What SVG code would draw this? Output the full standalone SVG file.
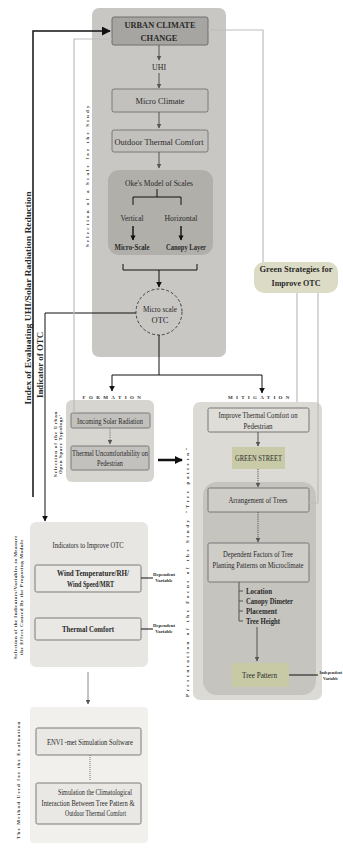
<svg xmlns="http://www.w3.org/2000/svg" width="343" height="850" viewBox="0 0 343 850">
<defs>
<marker id="ag" viewBox="0 0 10 10" refX="9" refY="5" markerWidth="5" markerHeight="5" orient="auto"><path d="M0,0 L10,5 L0,10 z" fill="#555"/></marker>
<marker id="ab" viewBox="0 0 10 10" refX="9" refY="5" markerWidth="6" markerHeight="6" orient="auto"><path d="M0,0 L10,5 L0,10 z" fill="#111"/></marker>
<marker id="abig" viewBox="0 0 10 10" refX="9" refY="5" markerWidth="3.2" markerHeight="3.2" orient="auto"><path d="M0,0 L10,5 L0,10 z" fill="#111"/></marker>
</defs>
<style>
text{font-family:"Liberation Serif","Times New Roman",serif;fill:#2a2a2a;}
.t{font-size:8.5px;text-anchor:middle;}
.b{font-weight:bold;}
.s{font-size:5px;font-weight:bold;text-anchor:middle;letter-spacing:0.6px;fill:#333;}
.box{fill:#c3c1bd;stroke:#7a7a7a;stroke-width:1;}
.lbox{fill:#e9e8e4;stroke:#7a7a7a;stroke-width:1;}
.g{stroke:#555;stroke-width:1;fill:none;}
.k{stroke:#111;stroke-width:1;fill:none;}
.lg{stroke:#bdbdbd;stroke-width:1.2;fill:none;}
</style>
<rect width="343" height="850" fill="#ffffff"/>

<g id="top-panel">
<rect x="92" y="8" width="134" height="349" rx="7" fill="#c9c7c3"/>
<text class="s" transform="translate(89,176) rotate(-90)" textLength="142">Selection of a Scale for the Study</text>
</g>

<g id="ucc">
<rect x="112" y="17" width="96" height="28" rx="2" fill="#a7a5a1" stroke="#6e6e6e"/>
<text class="t b" x="160" y="27.5" font-size="9.5" textLength="71" lengthAdjust="spacingAndGlyphs">URBAN CLIMATE</text>
<text class="t b" x="159" y="41" font-size="9.5" textLength="37" lengthAdjust="spacingAndGlyphs">CHANGE</text>
</g>
<g id="uhi"><text class="t" x="159" y="70" textLength="14" lengthAdjust="spacingAndGlyphs">UHI</text></g>
<g id="micro-climate">
<rect class="box" x="112" y="89" width="96" height="23" rx="2"/>
<text class="t" x="160" y="104" textLength="49" lengthAdjust="spacingAndGlyphs">Micro Climate</text>
</g>
<g id="otc">
<rect class="box" x="112" y="130" width="96" height="22" rx="2"/>
<text class="t" x="159" y="145" textLength="89" lengthAdjust="spacingAndGlyphs">Outdoor Thermal Comfort</text>
</g>
<g id="oke">
<rect x="108" y="170" width="105" height="85" rx="11" fill="#b1afaa"/>
<text class="t" x="159" y="186" textLength="68" lengthAdjust="spacingAndGlyphs">Oke's Model of Scales</text>
<text class="t" x="132" y="221" textLength="23" lengthAdjust="spacingAndGlyphs">Vertical</text>
<text class="t" x="181" y="221" textLength="33" lengthAdjust="spacingAndGlyphs">Horizontal</text>
<text class="t b" x="132" y="250" textLength="35" lengthAdjust="spacingAndGlyphs">Micro-Scale</text>
<text class="t b" x="186" y="250" textLength="40" lengthAdjust="spacingAndGlyphs">Canopy Layer</text>
</g>
<g id="micro-scale-otc">
<circle cx="159" cy="312" r="23" fill="none" stroke="#444" stroke-width="1" stroke-dasharray="3,2"/>
<text class="t" x="160" y="311.5" font-size="8" textLength="34" lengthAdjust="spacingAndGlyphs">Micro scale</text>
<text class="t" x="160" y="323" font-size="8">OTC</text>
</g>

<g id="green-strategies">
<rect x="254" y="262" width="84" height="31" rx="10" fill="#dcdcc6"/>
<text class="t b" x="296" y="272" font-size="9" textLength="73" lengthAdjust="spacingAndGlyphs">Green Strategies for</text>
<text class="t b" x="296" y="286" font-size="9" textLength="49" lengthAdjust="spacingAndGlyphs">Improve OTC</text>
</g>

<g id="formation">
<text class="s" x="112" y="399" font-size="5.5" textLength="59">FORMATION</text>
<rect x="66" y="400" width="88" height="82" rx="6" fill="#d7d5d0"/>
<rect class="box" x="71" y="413" width="79" height="15" rx="1.5" fill="#cdcbc6"/>
<text class="t" x="110" y="423.5" font-size="7.5" textLength="66" lengthAdjust="spacingAndGlyphs">Incoming Solar Radiation</text>
<rect class="box" x="71" y="446" width="78" height="24" rx="1.5" fill="#cdcbc6"/>
<text class="t" x="110" y="456" font-size="7.5" textLength="76" lengthAdjust="spacingAndGlyphs">Thermal Uncomfortability on</text>
<text class="t" x="110" y="466" font-size="7.5" textLength="26" lengthAdjust="spacingAndGlyphs">Pedestrian</text>
<text class="s" transform="translate(56.5,444) rotate(-90)" font-size="4.8" letter-spacing="0.4" textLength="66">Selection of the Urban</text>
<text class="s" transform="translate(62,444) rotate(-90)" font-size="4.8" letter-spacing="0.4" textLength="60">Open Space Typology'</text>
</g>

<g id="mitigation">
<text class="s" x="259" y="399" font-size="5.5" textLength="62">MITIGATION</text>
<rect x="193" y="402" width="129" height="298" rx="7" fill="#dcdad5"/>
<rect x="208" y="408" width="101" height="24" rx="1.5" fill="#dfddd8" stroke="#777"/>
<text class="t" x="258" y="417.5" font-size="7.5" textLength="79" lengthAdjust="spacingAndGlyphs">Improve Thermal Comfort on</text>
<text class="t" x="258" y="429" font-size="7.5" textLength="29" lengthAdjust="spacingAndGlyphs">Pedestrian</text>
<rect x="232" y="447" width="53" height="22" fill="#c9cba8"/>
<text class="t" x="258.5" y="461" font-size="7.5" textLength="47" lengthAdjust="spacingAndGlyphs">GREEN STREET</text>
<rect x="203" y="482" width="113" height="213" rx="14" fill="#c6c4bf"/>
<rect x="208" y="488" width="101" height="24" rx="1.5" fill="#cfcdc8" stroke="#777"/>
<text class="t" x="258" y="503" font-size="7.5" textLength="59" lengthAdjust="spacingAndGlyphs">Arrangement of Trees</text>
<rect x="208" y="543" width="101" height="39" rx="1.5" fill="#cfcdc8" stroke="#777"/>
<text class="t" x="258" y="557" font-size="7.5" textLength="70" lengthAdjust="spacingAndGlyphs">Dependent Factors of Tree</text>
<text class="t" x="258" y="568" font-size="7.5" textLength="91" lengthAdjust="spacingAndGlyphs">Planting Patterns on Microclimate</text>
<text class="b" x="246" y="594" font-size="8" textLength="26" lengthAdjust="spacingAndGlyphs">Location</text>
<text class="b" x="246" y="604" font-size="8" textLength="47" lengthAdjust="spacingAndGlyphs">Canopy Dimeter</text>
<text class="b" x="246" y="614" font-size="8" textLength="31" lengthAdjust="spacingAndGlyphs">Placement</text>
<text class="b" x="246" y="624" font-size="8" textLength="34" lengthAdjust="spacingAndGlyphs">Tree Height</text>
<path class="g" d="M239,582 V621 M239,591 H243 M239,601 H243 M239,611 H243 M239,621 H243"/>
<rect x="232" y="663" width="57" height="24" fill="#c8caa6"/>
<text class="t" x="259.5" y="678" font-size="8" textLength="35" lengthAdjust="spacingAndGlyphs">Tree Pattern</text>
<text class="s" transform="translate(188.5,572) rotate(-90)" font-size="4.8" letter-spacing="0.6" textLength="250">Presentation of the Focus of the Study "Tree pattern"</text>
<path class="k" d="M289,675 H318"/>
<text class="b" x="319.5" y="674" font-size="4.2">Independent</text>
<text class="b" x="323" y="680" font-size="4.2">Variable</text>
</g>

<g id="indicators">
<rect x="30" y="522" width="118" height="145" rx="6" fill="#e7e6e2"/>
<text class="t" x="88" y="548" font-size="7.5" textLength="71" lengthAdjust="spacingAndGlyphs">Indicators to Improve OTC</text>
<rect class="lbox" x="35" y="565" width="106" height="27" rx="1.5"/>
<text class="t b" x="93" y="576" font-size="8" textLength="72" lengthAdjust="spacingAndGlyphs">Wind Temperature/RH/</text>
<text class="t b" x="90.5" y="586.5" font-size="8" textLength="47" lengthAdjust="spacingAndGlyphs">Wind Speed/MRT</text>
<rect class="lbox" x="35" y="618" width="106" height="22" rx="1.5"/>
<text class="t b" x="88" y="632" font-size="8" textLength="52" lengthAdjust="spacingAndGlyphs">Thermal Comfort</text>
<path class="k" d="M141,578 H153 M141,629 H153"/>
<text class="b" x="164" y="576" font-size="4.8" text-anchor="middle">Dependent</text>
<text class="b" x="164" y="582" font-size="4.8" text-anchor="middle">Variable</text>
<text class="b" x="164" y="627" font-size="4.8" text-anchor="middle">Dependent</text>
<text class="b" x="164" y="633" font-size="4.8" text-anchor="middle">Variable</text>
<text class="s" transform="translate(17,597) rotate(-90)" font-size="4.8" letter-spacing="0.3" textLength="124">Selection of the Indicators/Variables to Measure</text>
<text class="s" transform="translate(23,597) rotate(-90)" font-size="4.8" letter-spacing="0.3" textLength="116">the Effect Caused By the Proposing Module</text>
</g>

<g id="evaluation">
<rect x="30" y="707" width="118" height="136" rx="4" fill="#f1f0ed"/>
<rect class="lbox" x="36" y="728" width="105" height="27" rx="1.5" fill="#f1f0ed"/>
<text class="t" x="90" y="745" font-size="7.5" textLength="86" lengthAdjust="spacingAndGlyphs">ENVI -met Simulation Software</text>
<rect class="lbox" x="36" y="783" width="105" height="41" rx="1.5" fill="#f1f0ed"/>
<text class="t" x="95" y="795" font-size="7.5" textLength="74" lengthAdjust="spacingAndGlyphs">Simulation the Climatological</text>
<text class="t" x="88" y="805.5" font-size="7.5" textLength="93" lengthAdjust="spacingAndGlyphs">Interaction Between Tree Pattern &amp;</text>
<text class="t" x="95.5" y="816" font-size="7.5" textLength="61" lengthAdjust="spacingAndGlyphs">Outdoor Thermal Comfort</text>
<text class="s" transform="translate(20,780) rotate(-90)" font-size="4.8" letter-spacing="0.6" textLength="118">The Method Used for the Evaluation</text>
</g>

<g id="side-labels">
<text class="b" transform="translate(30.5,298) rotate(-90)" font-size="8" text-anchor="middle" textLength="213" lengthAdjust="spacingAndGlyphs">Index of Evaluating UHI/Solar Radiation Reduction</text>
<text class="b" transform="translate(42.5,365) rotate(-90)" font-size="8" text-anchor="middle" textLength="66" lengthAdjust="spacingAndGlyphs">Indicator of OTC</text>
</g>

<g id="connectors">
<path class="g" d="M159,45 V60" marker-end="url(#ag)"/>
<path class="g" d="M159,73 V88" marker-end="url(#ag)"/>
<path class="g" d="M159,112 V128" marker-end="url(#ag)"/>
<path class="g" d="M159,152 V168" marker-end="url(#ag)"/>
<path class="k" d="M157,189 V197 M133,205 V197 H181 V205"/>
<path d="M133,226 V240" stroke="#222" stroke-width="1.6" marker-end="url(#abig)"/>
<path d="M181,226 V240" stroke="#222" stroke-width="1.6" marker-end="url(#abig)"/>
<path class="k" d="M123,264 V270 H197 V264"/>
<path class="k" d="M159,270 V287" marker-end="url(#ab)"/>
<path class="k" d="M159,335 V375 M112,375 H262"/>
<path class="k" d="M112,375 V391" marker-end="url(#ab)"/>
<path class="k" d="M262,375 V393" marker-end="url(#ab)"/>
<path d="M33,497 V31 H110" stroke="#111" stroke-width="1.5" fill="none" marker-end="url(#ab)"/>
<path class="k" d="M136,313 H45 V521" marker-end="url(#ab)"/>
<path class="lg" d="M112,39 H74 V413"/>
<path class="lg" d="M208,30 H263 V262"/>
<path class="lg" d="M297,293 V402"/>
<path class="lg" d="M318,293 V503 H309"/>
<path d="M110,428 V444" stroke="#777" stroke-width="1" stroke-dasharray="1.2,1" marker-end="url(#ag)"/>
<path d="M158,460 H182" stroke="#111" stroke-width="2.5" marker-end="url(#abig)"/>
<path class="g" d="M258,432 V446" marker-end="url(#ag)"/>
<path d="M258,469 V487" stroke="#555" stroke-dasharray="1.2,1" marker-end="url(#ag)"/>
<path d="M258,512 V542" stroke="#555" stroke-dasharray="1.2,1" marker-end="url(#ag)"/>
<path class="g" d="M257,627 V661" marker-end="url(#ag)"/>
<path d="M90,755 V780" stroke="#777" stroke-dasharray="1,1"/>
<path d="M88,672 V704" stroke="#888" stroke-width="1" marker-end="url(#ag)"/>
</g>
</svg>
